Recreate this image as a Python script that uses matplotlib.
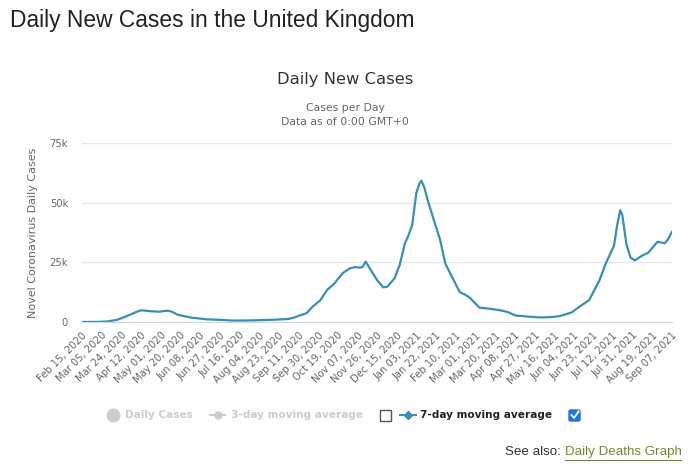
import numpy as np
import pandas as pd
import matplotlib
matplotlib.use("Agg")
import matplotlib.pyplot as plt
from matplotlib.patches import Rectangle, FancyBboxPatch
from matplotlib.lines import Line2D

# 7-day moving average
dates = ["2020-02-15", "2020-03-03", "2020-03-11", "2020-03-20", "2020-03-30",
         "2020-04-07", "2020-04-12", "2020-04-17", "2020-04-22", "2020-04-26",
         "2020-04-30", "2020-05-04", "2020-05-08", "2020-05-12", "2020-05-17",
         "2020-05-24", "2020-05-31", "2020-06-15", "2020-06-30", "2020-07-09",
         "2020-07-20", "2020-07-31", "2020-08-19", "2020-09-02", "2020-09-08",
         "2020-09-12", "2020-09-19", "2020-09-25", "2020-10-02", "2020-10-09",
         "2020-10-16", "2020-10-24", "2020-10-31", "2020-11-05", "2020-11-09",
         "2020-11-12", "2020-11-15", "2020-11-19", "2020-11-26", "2020-12-02",
         "2020-12-06", "2020-12-13", "2020-12-18", "2020-12-23", "2020-12-26",
         "2020-12-30", "2021-01-03", "2021-01-06", "2021-01-08", "2021-01-11",
         "2021-01-14", "2021-01-19", "2021-01-26", "2021-01-31", "2021-02-08",
         "2021-02-14", "2021-02-19", "2021-02-24", "2021-03-05", "2021-03-14",
         "2021-03-24", "2021-04-01", "2021-04-09", "2021-04-20", "2021-05-02",
         "2021-05-12", "2021-05-21", "2021-06-02", "2021-06-09", "2021-06-19",
         "2021-06-29", "2021-07-05", "2021-07-13", "2021-07-16", "2021-07-19",
         "2021-07-21", "2021-07-25", "2021-07-29", "2021-08-02", "2021-08-10",
         "2021-08-15", "2021-08-24", "2021-08-31", "2021-09-03", "2021-09-07"]
avg7 = [0, 50, 250, 900, 2600,
        4100, 4900, 4700, 4500, 4400,
        4300, 4600, 4700, 4300, 3100,
        2400, 1800, 1100, 850, 600,
        620, 700, 950, 1300, 2000,
        2700, 3700, 6500, 9000, 13500,
        16200, 20500, 22500, 23000, 22800,
        23000, 25300, 22500, 17600, 14500,
        14800, 18300, 24000, 33000, 35800,
        40600, 54000, 58000, 59200, 56000,
        51000, 44000, 34400, 24500, 17600,
        12500, 11500, 10000, 6000, 5600,
        5000, 4200, 2700, 2300, 1900,
        2000, 2400, 4000, 6200, 9200,
        17500, 24500, 32000, 40500, 46800,
        44800, 32500, 27000, 25800, 28000,
        29000, 33600, 33000, 34500, 37800]

y_ticks = [0, 25000, 50000, 75000]
y_labels = ["0", "25k", "50k", "75k"]

x = pd.to_datetime(dates)
tick_dates = pd.date_range("2020-02-15", "2021-09-07", freq="19D")

line_col = "#3391b5"
grey = "#666666"
light = "#cccccc"

fig = plt.figure(figsize=(6.9, 4.68), dpi=100)
ax = fig.add_axes([0.1188, 0.312, 0.8551, 0.3825])

ax.plot(x, avg7, color=line_col, lw=1.6, solid_joinstyle="round")
ax.set_ylim(0, 75000)
ax.set_xlim(pd.Timestamp("2020-02-15"), pd.Timestamp("2021-09-07"))

ax.set_yticks(y_ticks)
ax.set_yticklabels(y_labels)
ax.set_xticks(tick_dates)
ax.set_xticklabels([d.strftime("%b %d, %Y") for d in tick_dates],
                   rotation=45, ha="right", rotation_mode="anchor")
ax.tick_params(axis="both", length=0, labelsize=7.2, colors=grey)
ax.tick_params(axis="x", pad=6)
ax.tick_params(axis="y", pad=10)
ax.grid(axis="y", color="#e6e6e6", lw=1)
ax.set_axisbelow(True)
for s in ["top", "right", "left"]:
    ax.spines[s].set_visible(False)
ax.spines["bottom"].set_color("#ccd6eb")
ax.set_ylabel("Novel Coronavirus Daily Cases", fontsize=8, color=grey, labelpad=8)

# titles
fig.text(10 / 690, 1 - 20 / 468, "Daily New Cases in the United Kingdom",
         fontsize=16.4, color="#222222", family="Liberation Sans", va="center")
fig.text(0.5, 1 - 79 / 468, "Daily New Cases", fontsize=11.8, color="#333333",
         ha="center", va="center")
fig.text(0.5, 1 - 108 / 468, "Cases per Day", fontsize=7.8, color=grey,
         ha="center", va="center")
fig.text(0.5, 1 - 122 / 468, "Data as of 0:00 GMT+0", fontsize=7.8, color=grey,
         ha="center", va="center")

# legend, drawn by hand
ly = 1 - 415 / 468
fig.lines.append(Line2D([113 / 690], [ly], transform=fig.transFigure,
                        color=light, marker="o", ms=9, lw=0))
fig.text(125 / 690, ly, "Daily Cases", fontsize=7.6, weight="bold", color=light,
         va="center")
fig.lines.append(Line2D([210 / 690, 225 / 690], [ly, ly], transform=fig.transFigure,
                        color=light, lw=1.5))
fig.lines.append(Line2D([217.5 / 690], [ly], transform=fig.transFigure,
                        color=light, marker="o", ms=5))
fig.text(231 / 690, ly, "3-day moving average", fontsize=7.6, weight="bold",
         color=light, va="center")
fig.patches.append(Rectangle((380 / 690, ly - 6 / 468), 11 / 690, 11 / 468,
                             transform=fig.transFigure, fill=False,
                             ec="#555555", lw=1))
fig.lines.append(Line2D([400 / 690, 416 / 690], [ly, ly], transform=fig.transFigure,
                        color=line_col, lw=1.5))
fig.lines.append(Line2D([408 / 690], [ly], transform=fig.transFigure,
                        color=line_col, marker="D", ms=4))
fig.text(420 / 690, ly, "7-day moving average", fontsize=7.6, weight="bold",
         color="#222222", va="center")
fig.patches.append(FancyBboxPatch((569 / 690, ly - 6 / 468), 11 / 690, 11 / 468,
                                  boxstyle="round,pad=0,rounding_size=0.003",
                                  transform=fig.transFigure, fc="#1a73e8",
                                  ec="#1a73e8"))
fig.lines.append(Line2D([571.5 / 690, 574 / 690, 578.5 / 690],
                        [ly, ly - 3 / 468, ly + 3.5 / 468],
                        transform=fig.transFigure, color="white", lw=1.4))

# see also
sy = 1 - 452 / 468
fig.text(565 / 690, sy, "See also: ", fontsize=9.6, color="#333333",
         family="Liberation Sans", ha="right", va="center")
fig.text(565 / 690, sy, "Daily Deaths Graph", fontsize=9.6, color="#6b8e23",
         family="Liberation Sans", ha="left", va="center")
fig.lines.append(Line2D([565 / 690, 681 / 690], [sy - 8 / 468, sy - 8 / 468],
                        transform=fig.transFigure, color="#6b8e23", lw=0.8))

fig.savefig("out.png", dpi=100)
